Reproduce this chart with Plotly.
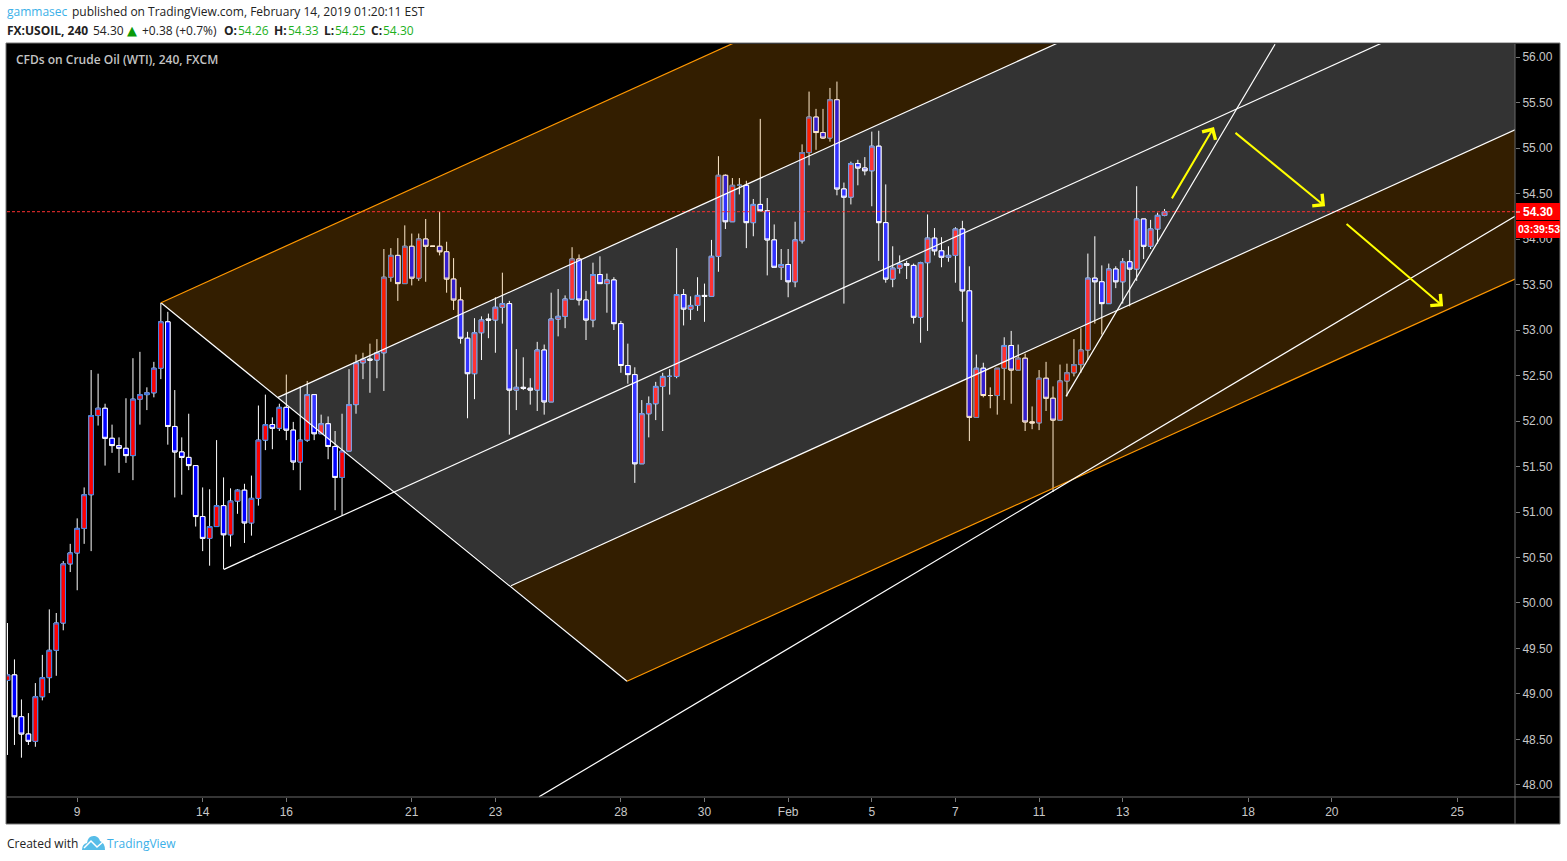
import plotly.graph_objects as go

W = 1567
H = 861

# 240 min bars
opens = [
    49.15, 49.21, 48.75, 48.56, 48.48, 48.97, 49.18, 49.48, 49.78, 50.43,
    50.55, 50.82, 51.19, 52.06, 52.14, 51.81, 51.73, 51.70, 51.62, 52.24,
    52.29, 52.31, 52.58, 53.09, 51.94, 51.66, 51.60, 51.51, 50.95, 50.71,
    50.84, 51.07, 50.75, 51.12, 51.24, 50.88, 51.15, 51.79, 51.96, 51.92,
    52.15, 51.90, 51.55, 51.79, 52.29, 51.86, 51.97, 51.72, 51.38, 51.67,
    52.18, 52.64, 52.68, 52.67, 52.75, 53.58, 53.82, 53.51, 53.92, 53.57,
    54.00, 53.92, 53.92, 53.86, 53.56, 53.33, 52.91, 52.52, 52.97, 53.12,
    53.11, 53.25, 53.29, 52.34, 52.37, 52.36, 52.34, 52.78, 52.21, 53.12,
    53.15, 53.34, 53.78, 53.33, 53.11, 53.61, 53.51, 53.55, 53.07, 52.61,
    52.51, 51.53, 52.08, 52.19, 52.38, 52.49, 52.49, 53.39, 53.23, 53.27,
    53.38, 53.37, 53.81, 54.70, 54.19, 54.59, 54.59, 54.18, 54.38, 54.31,
    53.99, 53.69, 53.72, 53.53, 53.98, 54.95, 55.34, 55.17, 55.11, 55.53,
    54.55, 54.46, 54.83, 54.78, 54.75, 55.02, 54.18, 53.56, 53.68, 53.73,
    53.71, 53.14, 53.74, 54.01, 53.87, 53.80, 53.82, 54.11, 53.43, 52.04,
    52.58, 52.28, 52.28, 52.58, 52.83, 52.56, 52.69, 51.99, 51.98, 52.47,
    52.25, 52.01, 52.44, 52.53, 52.62, 52.78, 53.57, 53.53, 53.29, 53.67,
    53.53, 53.75, 53.67, 54.22, 53.92, 54.11, 54.26,
]
highs = [
    49.78, 49.38, 48.94, 48.79, 49.12, 49.43, 49.93, 49.89, 50.46, 50.65,
    50.93, 51.27, 52.56, 52.52, 52.19, 51.96, 51.82, 52.25, 52.69, 52.76,
    52.37, 52.65, 53.30, 53.20, 52.34, 51.82, 52.08, 51.51, 51.27, 51.25,
    51.79, 51.38, 51.26, 51.25, 51.31, 51.40, 52.17, 52.29, 52.04, 52.19,
    52.51, 51.99, 52.38, 52.44, 52.29, 52.07, 52.05, 51.89, 52.08, 52.57,
    52.73, 52.75, 52.85, 52.90, 53.89, 53.90, 54.01, 54.15, 54.06, 54.06,
    54.22, 53.92, 54.30, 53.97, 53.79, 53.47, 52.98, 53.13, 53.15, 53.18,
    53.36, 53.63, 53.32, 52.79, 52.70, 52.47, 52.87, 52.84, 53.41, 53.45,
    53.38, 53.91, 53.83, 53.43, 53.74, 53.81, 53.62, 53.58, 53.10, 52.85,
    52.59, 52.23, 52.27, 52.43, 52.53, 52.57, 53.90, 53.45, 53.37, 53.58,
    53.51, 53.99, 54.91, 54.71, 54.67, 54.67, 54.64, 54.44, 55.32, 54.45,
    54.16, 53.89, 53.89, 54.19, 55.04, 55.62, 55.43, 55.43, 55.66, 55.73,
    54.62, 54.85, 54.87, 54.90, 55.18, 55.19, 54.60, 53.92, 53.82, 53.76,
    53.73, 53.75, 54.27, 54.12, 54.02, 53.92, 54.13, 54.20, 53.70, 52.73,
    52.64, 52.37, 52.58, 52.92, 52.99, 52.84, 52.74, 52.16, 52.56, 52.65,
    52.38, 52.62, 52.63, 52.90, 53.02, 53.84, 54.03, 53.71, 53.73, 53.70,
    53.79, 53.88, 54.58, 54.22, 54.21, 54.29, 54.33,
]
lows = [
    48.33, 48.44, 48.30, 48.44, 48.42, 48.93, 49.01, 49.20, 49.70, 50.34,
    50.14, 50.65, 50.57, 51.95, 51.51, 51.65, 51.43, 51.54, 51.35, 51.96,
    52.12, 52.26, 52.46, 51.74, 51.16, 51.19, 51.46, 50.84, 50.57, 50.41,
    50.84, 50.37, 50.62, 50.98, 50.66, 50.74, 51.07, 51.68, 51.69, 51.89,
    51.79, 51.46, 51.24, 51.77, 51.79, 51.86, 51.58, 51.02, 50.96, 51.67,
    52.08, 52.46, 52.31, 52.47, 52.33, 53.53, 53.32, 53.51, 53.49, 53.54,
    53.53, 53.92, 53.82, 53.41, 53.22, 52.85, 52.03, 52.24, 52.67, 52.91,
    52.75, 53.07, 51.85, 52.12, 52.34, 52.18, 52.11, 52.07, 52.21, 52.93,
    53.02, 53.34, 53.27, 52.89, 53.03, 53.51, 53.19, 53.00, 52.53, 52.41,
    51.32, 51.53, 51.82, 52.01, 51.89, 52.29, 52.47, 53.05, 53.11, 53.21,
    53.09, 53.37, 53.64, 54.11, 54.19, 54.49, 53.90, 54.03, 54.31, 53.60,
    53.69, 53.55, 53.36, 53.47, 53.95, 54.81, 54.98, 55.10, 55.07, 54.48,
    53.29, 54.38, 54.59, 54.70, 54.36, 53.76, 53.52, 53.47, 53.62, 53.56,
    53.07, 52.86, 52.99, 53.82, 53.69, 53.75, 53.52, 53.09, 51.78, 52.04,
    52.26, 52.14, 52.07, 52.23, 52.19, 52.56, 51.89, 51.91, 51.90, 52.11,
    51.22, 52.01, 52.27, 52.49, 52.53, 52.67, 53.07, 52.95, 53.29, 53.46,
    53.29, 53.26, 53.54, 53.78, 53.89, 53.95, 54.25,
]
closes = [
    49.21, 48.75, 48.56, 48.48, 48.97, 49.18, 49.48, 49.78, 50.43, 50.55,
    50.82, 51.19, 52.06, 52.14, 51.81, 51.73, 51.70, 51.62, 52.24, 52.29,
    52.31, 52.58, 53.09, 51.94, 51.66, 51.60, 51.51, 50.95, 50.71, 50.84,
    51.07, 50.75, 51.12, 51.24, 50.88, 51.15, 51.79, 51.96, 51.92, 52.15,
    51.90, 51.55, 51.79, 52.29, 51.86, 51.97, 51.72, 51.38, 51.67, 52.18,
    52.64, 52.68, 52.67, 52.75, 53.58, 53.82, 53.51, 53.92, 53.57, 54.00,
    53.92, 53.92, 53.86, 53.56, 53.33, 52.91, 52.52, 52.97, 53.11, 53.11,
    53.25, 53.29, 52.34, 52.37, 52.36, 52.34, 52.78, 52.21, 53.12, 53.15,
    53.34, 53.78, 53.33, 53.11, 53.61, 53.51, 53.55, 53.07, 52.61, 52.51,
    51.53, 52.08, 52.19, 52.38, 52.49, 52.49, 53.39, 53.23, 53.27, 53.38,
    53.37, 53.81, 54.70, 54.19, 54.59, 54.59, 54.18, 54.38, 54.31, 53.99,
    53.69, 53.72, 53.53, 53.99, 54.95, 55.34, 55.17, 55.11, 55.53, 54.55,
    54.46, 54.83, 54.78, 54.75, 55.02, 54.18, 53.56, 53.68, 53.73, 53.71,
    53.14, 53.74, 54.01, 53.87, 53.80, 53.82, 54.11, 53.43, 52.04, 52.58,
    52.28, 52.28, 52.58, 52.83, 52.56, 52.69, 51.99, 51.98, 52.47, 52.25,
    52.01, 52.44, 52.53, 52.62, 52.78, 53.57, 53.53, 53.29, 53.67, 53.53,
    53.75, 53.67, 54.22, 53.92, 54.11, 54.26, 54.30,
]
bars = list(range(len(closes)))

tick_bars = [10, 28, 40, 58, 70, 88, 100, 112, 124, 136, 148, 160, 178, 190, 208]
tick_labels = ["9", "14", "16", "21", "23", "28", "30", "Feb", "5", "7", "11", "13", "18", "20", "25"]
price_ticks = [48.0, 48.5, 49.0, 49.5, 50.0, 50.5, 51.0, 51.5, 52.0, 52.5, 53.0, 53.5, 54.0, 54.5, 55.0, 55.5, 56.0]
last_price = 54.30

x_range = [-0.07, 216.28]
y_range = [47.868, 56.143]

# pitchfork anchors as (bar, price)
pf_pivot = (22.02, 53.30)
pf_handle_end = (88.88, 49.14)
pf_top_end = (104.09, 56.15)
pf_upper_start = (38.81, 52.26)
pf_upper_end = (150.57, 56.15)
pf_mid_start = (31.06, 50.37)
pf_mid_end = (197.07, 56.15)
pf_lower_start = (72.24, 50.19)
pf_lower_end = (216.28, 55.20)
pf_bottom_end = (216.28, 53.56)
pf_corner = (216.28, 56.15)

# trend lines
long_trend = [(76.26, 47.87), (216.28, 54.25)]
short_trend = [(151.87, 52.27), (181.85, 56.14)]

# yellow arrows, tail then tip
arrows = [
    ((166.93, 54.43), (173.09, 55.23)),
    ((175.96, 55.18), (189.03, 54.36)),
    ((191.90, 54.18), (205.96, 53.26)),
]


def px(x):
    return x / W


def py(y):
    return 1 - y / H


def poly(points, fill):
    return go.Scatter(x=[p[0] for p in points], y=[p[1] for p in points], mode="none",
                      fill="toself", fillcolor=fill, hoverinfo="skip", showlegend=False)


def line(points, color, width=1.2, dash="solid"):
    return go.Scatter(x=[p[0] for p in points], y=[p[1] for p in points], mode="lines",
                      line=dict(color=color, width=width, dash=dash), hoverinfo="skip", showlegend=False)


fig = go.Figure()

# wicks first, then bodies on top so wicks stay white and the red bars keep a blue edge
fig.add_trace(go.Candlestick(x=bars, open=opens, high=highs, low=lows, close=closes,
                             increasing=dict(line=dict(color="#ffffff", width=1), fillcolor="#ff0000"),
                             decreasing=dict(line=dict(color="#ffffff", width=1), fillcolor="#0000ff"),
                             whiskerwidth=0, showlegend=False))
fig.add_trace(go.Candlestick(x=bars, open=opens, close=closes,
                             high=[max(o, c) for o, c in zip(opens, closes)],
                             low=[min(o, c) for o, c in zip(opens, closes)],
                             increasing=dict(line=dict(color="#3a80e8", width=1), fillcolor="#ff0000"),
                             decreasing=dict(line=dict(color="#ffffff", width=1), fillcolor="#0000ff"),
                             whiskerwidth=0, showlegend=False))

# channel fills sit over the candles
white_fill = "rgba(255,255,255,0.2)"
orange_fill = "rgba(255,152,0,0.2)"
fig.add_trace(poly([pf_pivot, pf_upper_start, pf_upper_end, pf_top_end, pf_pivot], orange_fill))
fig.add_trace(poly([pf_upper_start, pf_lower_start, pf_lower_end, pf_corner, pf_upper_end, pf_upper_start], white_fill))
fig.add_trace(poly([pf_lower_start, pf_handle_end, pf_bottom_end, pf_lower_end, pf_lower_start], orange_fill))

fig.add_trace(line([(x_range[0], last_price), (x_range[1], last_price)], "#ff3030", width=1, dash="3px,2px"))
fig.add_trace(line([pf_pivot, pf_handle_end], "#ffffff"))
fig.add_trace(line([pf_pivot, pf_top_end], "#ff9800"))
fig.add_trace(line([pf_handle_end, pf_bottom_end], "#ff9800"))
fig.add_trace(line([pf_upper_start, pf_upper_end], "#ffffff"))
fig.add_trace(line([pf_mid_start, pf_mid_end], "#ffffff"))
fig.add_trace(line([pf_lower_start, pf_lower_end], "#ffffff"))
fig.add_trace(line(long_trend, "#ffffff"))
fig.add_trace(line(short_trend, "#ffffff"))

shapes = [
    # black chart panel with the scale areas
    dict(type="rect", xref="paper", yref="paper", layer="below", x0=px(6), x1=px(1560), y0=py(824), y1=py(43),
         fillcolor="#000000", line=dict(color="#777777", width=1)),
    dict(type="line", xref="paper", yref="paper", layer="above", x0=px(7), x1=px(1560), y0=py(797), y1=py(797),
         line=dict(color="#6a6a6a", width=1)),
    dict(type="line", xref="paper", yref="paper", layer="above", x0=px(1515), x1=px(1515), y0=py(44), y1=py(824),
         line=dict(color="#6a6a6a", width=1)),
    # price and countdown tags
    dict(type="rect", xref="paper", yref="paper", layer="above", x0=px(1516), x1=px(1560), y0=py(220), y1=py(203),
         fillcolor="#ff0000", line=dict(width=0)),
    dict(type="rect", xref="paper", yref="paper", layer="above", x0=px(1516), x1=px(1560), y0=py(238), y1=py(221),
         fillcolor="#ff0000", line=dict(width=0)),
    dict(type="line", xref="paper", yref="paper", layer="above", x0=px(1516), x1=px(1520), y0=py(212), y1=py(212),
         line=dict(color="#ffffff", width=1)),
    # TradingView logo
    dict(type="path", xref="paper", yref="paper", layer="above", fillcolor="#57bde8", line=dict(width=0),
         path="M {} {} Q {} {} {} {} Q {} {} {} {} Q {} {} {} {} Q {} {} {} {} L {} {} Z".format(
             px(82), py(850), px(82), py(844), px(87), py(843), px(88), py(835), px(95), py(836),
             px(99), py(837), px(100), py(841), px(105), py(843), px(105), py(850), px(82), py(850))),
    dict(type="path", xref="paper", yref="paper", layer="above", line=dict(color="#ffffff", width=1.5),
         path="M {} {} L {} {} L {} {} L {} {}".format(
             px(84), py(848), px(91), py(841), px(97), py(847), px(104), py(841))),
]

annotations = []


def label(x, y, text, color="#222222", size=12, family="Open Sans", weight=None):
    font = dict(color=color, size=size, family=family)
    if weight:
        font["weight"] = weight
    annotations.append(dict(xref="paper", yref="paper", x=px(x), y=py(y), text=text, showarrow=False,
                            xanchor="left", yanchor="middle", align="left", borderpad=0, font=font))


green = "#1db01d"
label(6, 12, "gammasec", color="#3bb0e8")
label(71, 12, "published on TradingView.com, February 14, 2019 01:20:11 EST")
label(6, 30, "<b>FX:USOIL, 240</b>")
label(92, 30, "54.30")
label(126, 30, "▲", color="#0a9a0a", size=13, family="DejaVu Sans")
label(141, 30, "+0.38 (+0.7%)")
label(223, 30, "<b>O:</b>")
label(237, 30, "54.26", color=green)
label(273, 30, "<b>H:</b>")
label(287, 30, "54.33", color=green)
label(323, 30, "<b>L:</b>")
label(334, 30, "54.25", color=green)
label(370, 30, "<b>C:</b>")
label(382, 30, "54.30", color=green)
label(15, 60, "CFDs on Crude Oil (WTI), 240, FXCM", color="#c4c4c4", weight=600)
label(6, 843, "Created with")
label(106, 843, "TradingView", color="#3bb0e8")
label(1522, 212, "<b>54.30</b>", color="#ffffff", size=12, family="Liberation Sans")
label(1517, 229, "<b>03:39:53</b>", color="#ffffff", size=10.5, family="Liberation Sans")

for tail, tip in arrows:
    annotations.append(dict(xref="x", yref="y", axref="x", ayref="y", x=tip[0], y=tip[1], ax=tail[0], ay=tail[1],
                            text="", showarrow=True, arrowhead=4, arrowsize=1.5, arrowwidth=2, arrowcolor="#ffff00",
                            standoff=0, startstandoff=0))

fig.update_layout(
    width=W,
    height=H,
    autosize=False,
    margin=dict(l=0, r=0, t=0, b=0),
    paper_bgcolor="#ffffff",
    plot_bgcolor="#000000",
    boxmode="overlay",
    boxgap=0.35,
    boxgroupgap=0,
    showlegend=False,
    hovermode=False,
    shapes=shapes,
    annotations=annotations,
    xaxis=dict(domain=[px(7), px(1515)], range=x_range, rangeslider=dict(visible=False), showgrid=False, zeroline=False,
               tickmode="array", tickvals=tick_bars, ticktext=tick_labels, ticks="outside", ticklen=4,
               tickcolor="#777777", tickfont=dict(color="#c8c8c8", size=12, family="Liberation Sans")),
    yaxis=dict(domain=[py(797), py(44)], range=y_range, side="right", showgrid=False, zeroline=False,
               tickmode="array", tickvals=price_ticks, ticktext=["%.2f" % p for p in price_ticks], ticks="outside",
               ticklen=4, tickcolor="#777777", tickfont=dict(color="#c8c8c8", size=12, family="Liberation Sans")),
)

# the default page keeps an 8px body margin
fig.write_html("out.html", config=dict(displayModeBar=False), post_script="document.body.style.margin='0';")
